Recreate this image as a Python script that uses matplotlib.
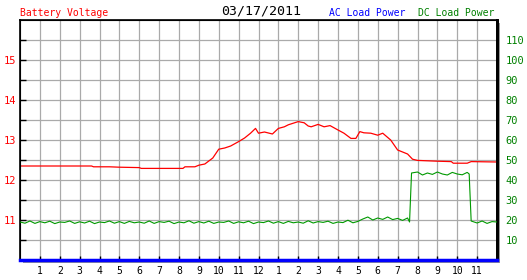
import matplotlib
matplotlib.use('Agg')
import matplotlib.pyplot as plt
from matplotlib.patches import Rectangle

# battery voltage (left axis, volts), time in hours
volt_hours = [0, 3.6, 3.7, 4.5, 5.0, 6.0, 6.1, 8.2, 8.3, 8.8, 9.0, 9.3, 9.7, 10.0,
              10.3, 10.6, 11.0, 11.3, 11.6, 11.85, 12.0, 12.3, 12.7, 13.0, 13.3,
              13.5, 14.0, 14.3, 14.5, 14.65, 15.0, 15.3, 15.6, 16.0, 16.3, 16.65,
              16.9, 17.1, 17.3, 17.65, 18.0, 18.25, 18.65, 19.0, 19.5, 19.75, 20.0,
              21.0, 21.7, 21.8, 22.5, 22.7, 24.0]
volts = [12.35, 12.35, 12.33, 12.33, 12.32, 12.31, 12.29, 12.29, 12.33, 12.33, 12.37,
         12.40, 12.55, 12.77, 12.80, 12.85, 12.96, 13.05, 13.17, 13.29, 13.17, 13.20,
         13.15, 13.29, 13.33, 13.38, 13.46, 13.43, 13.35, 13.33, 13.39, 13.33, 13.36,
         13.25, 13.17, 13.04, 13.04, 13.21, 13.18, 13.17, 13.12, 13.17, 13.00, 12.75,
         12.65, 12.52, 12.49, 12.47, 12.46, 12.42, 12.42, 12.46, 12.45]

# DC load power (right axis)
dc_hours = [i * 0.25 for i in range(79)] + [19.6, 19.7] + \
           [20 + i * 0.25 for i in range(11)] + [22.6, 22.7, 23.0, 23.25, 23.5, 23.75, 24.0]
dc_power = [19.0, 18.4, 19.5, 18.3, 19.2, 18.6, 19.4, 18.2, 19.0, 18.8, 19.5, 18.3,
            19.1, 18.5, 19.4, 18.2, 19.0, 18.7, 19.5, 18.4, 19.2, 18.3, 19.3, 18.6,
            19.0, 18.4, 19.5, 18.3, 19.2, 18.8, 19.4, 18.2, 19.0, 18.6, 19.6, 18.4,
            19.2, 18.5, 19.4, 18.3, 19.0, 18.8, 19.5, 18.3, 19.1, 18.6, 19.4, 18.2,
            19.0, 18.7, 19.5, 18.4, 19.2, 18.3, 19.3, 18.6, 19.0, 18.4, 19.6, 18.5,
            19.2, 18.8, 19.4, 18.3, 19.0, 18.7, 19.9, 18.6, 19.3,
            20.5, 21.5, 20.0, 21.0, 20.3, 21.5, 20.2, 20.8, 19.8, 21.0,
            19.0, 43.5,
            44.0, 42.5, 43.5, 42.8, 44.0, 43.0, 42.5, 43.8, 43.0, 42.6, 43.8,
            43.0, 19.5, 18.5, 19.5, 18.3, 19.2, 19.0]

# AC load power (right axis)
ac_hours = [0, 24]
ac_power = [0, 0]

hour_ticks = list(range(1, 24))
hour_labels = [str(h if h <= 12 else h - 12) for h in hour_ticks]

W, H = 527, 280
fig = plt.figure(figsize=(W / 100, H / 100), dpi=100)
fig.patch.set_facecolor('white')
L, B, R, T = 20, 20, 497, 260   # plot box in pixels (B from bottom)
ax = fig.add_axes([L / W, (H - T) / H, (R - L) / W, (T - B) / H])
ax.set_zorder(2)

# gray drop shadow on right and bottom
fig.patches.append(Rectangle(((L + 3) / W, (H - T - 3) / H), (R - L) / W, (T - B) / H,
                             transform=fig.transFigure, facecolor='#999999',
                             edgecolor='none', zorder=0))

font = 'DejaVu Sans Mono'
ax.set_xlim(0, 24)
ax.set_ylim(10, 16)
ax.set_xticks(hour_ticks)
ax.set_xticklabels(hour_labels, fontsize=7, family=font)
ax.set_yticks([10.5 + 0.5 * i for i in range(11)])
ax.set_yticklabels(['' if v % 1 else str(int(v)) for v in [10.5 + 0.5 * i for i in range(11)]],
                   fontsize=7.5, family=font, color='red')
ax.tick_params(axis='x', direction='in', length=3, width=1, color='black', pad=4)
ax.tick_params(axis='y', direction='in', length=4, width=1, color='black', pad=3)
ax.grid(True, color='#aaaaaa', linewidth=0.9)
ax.set_axisbelow(True)
ax.plot(volt_hours, volts, color='red', linewidth=0.9, zorder=3)

for s in ['left', 'top']:
    ax.spines[s].set_linewidth(1.2)
ax.spines['right'].set_linewidth(2)
ax.spines['bottom'].set_linewidth(1)

ax2 = ax.twinx()
ax2.set_ylim(0, 120)
ax2.set_yticks(range(10, 120, 10))
ax2.set_yticklabels([str(v) for v in range(10, 120, 10)], fontsize=7.5, family=font,
                    color='green')
ax2.tick_params(axis='y', length=0, pad=6)
ax2.plot(dc_hours, dc_power, color='#009900', linewidth=0.8, zorder=3)
ax2.plot(ac_hours, ac_power, color='blue', linewidth=2.5, zorder=4, clip_on=False)
ax2.spines['right'].set_linewidth(2)

fig.text(20 / W, 1 - 13 / H, 'Battery Voltage', color='red', fontsize=7,
         family=font, va='center', ha='left')
fig.text(261 / W, 1 - 11 / H, '03/17/2011', color='black', fontsize=9.5,
         family=font, va='center', ha='center')
fig.text(329 / W, 1 - 13 / H, 'AC Load Power', color='blue', fontsize=7,
         family=font, va='center', ha='left')
fig.text(418 / W, 1 - 13 / H, 'DC Load Power', color='green', fontsize=7,
         family=font, va='center', ha='left')

fig.savefig('out.png', dpi=100, facecolor='white')
